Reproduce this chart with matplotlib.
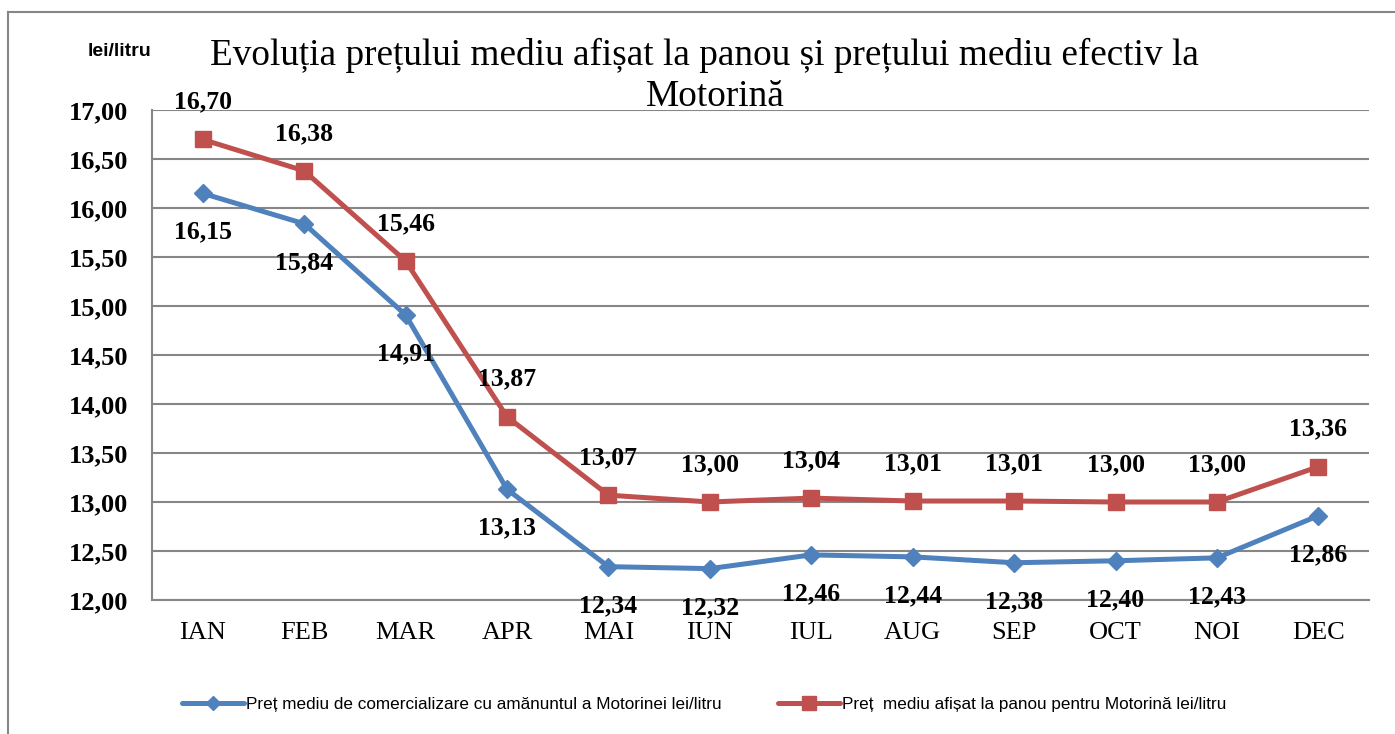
import matplotlib
matplotlib.use("Agg")
from matplotlib import pyplot as plt
from matplotlib.lines import Line2D

# months and monthly prices (lei/litru)
luni = ["IAN", "FEB", "MAR", "APR", "MAI", "IUN", "IUL", "AUG", "SEP", "OCT", "NOI", "DEC"]
pret_efectiv = [16.15, 15.84, 14.91, 13.13, 12.34, 12.32, 12.46, 12.44, 12.38, 12.40, 12.43, 12.86]
pret_panou = [16.70, 16.38, 15.46, 13.87, 13.07, 13.00, 13.04, 13.01, 13.01, 13.00, 13.00, 13.36]

eticheta_efectiv = "Preț mediu de comercializare cu amănuntul a Motorinei lei/litru"
eticheta_panou = "Preț  mediu afișat la panou pentru Motorină lei/litru"
titlu_1 = "Evoluția prețului mediu afișat la panou și prețului mediu efectiv la"
titlu_2 = "Motorină"

blue = "#4F81BD"
red = "#C0504D"
grid_col = "#868686"
serif = "Liberation Serif"


def fmt(v):
    return f"{v:.2f}".replace(".", ",")


fig = plt.figure(figsize=(13.95, 7.34), dpi=100)
ax = fig.add_axes([0.109, 0.1826, 0.8724, 0.6674])

x = list(range(len(luni)))
ax.plot(x, pret_efectiv, color=blue, lw=3.6, marker="D", ms=9.5,
        label=eticheta_efectiv, solid_capstyle="round", zorder=3)
ax.plot(x, pret_panou, color=red, lw=3.6, marker="s", ms=12,
        label=eticheta_panou, solid_capstyle="round", zorder=3)

# data labels: blue below, red above
for i, v in enumerate(pret_efectiv):
    ax.annotate(fmt(v), (i, v), xytext=(0, -28), textcoords="offset points",
                ha="center", va="center", fontsize=18.5, fontweight="bold",
                family=serif)
for i, v in enumerate(pret_panou):
    ax.annotate(fmt(v), (i, v), xytext=(0, 27), textcoords="offset points",
                ha="center", va="center", fontsize=18.5, fontweight="bold",
                family=serif)

ax.set_xlim(-0.5, len(luni) - 0.5)
ax.set_ylim(12, 17)
ax.set_yticks([12 + 0.5 * k for k in range(11)])
ax.set_yticklabels([fmt(12 + 0.5 * k) for k in range(11)],
                   fontsize=19, fontweight="bold", family=serif)
ax.set_xticks(x)
ax.set_xticklabels(luni, fontsize=19, family=serif)
ax.tick_params(axis="y", length=0, pad=17)
ax.tick_params(axis="x", length=0, pad=16)
ax.yaxis.grid(True, color=grid_col, lw=1.5)
ax.set_axisbelow(True)
for s in ["top", "right"]:
    ax.spines[s].set_visible(False)
for s in ["left", "bottom"]:
    ax.spines[s].set_color(grid_col)
    ax.spines[s].set_linewidth(1.5)

fig.text(0.505, 1 - 55 / 734, titlu_1, ha="center", va="center", fontsize=26.8,
         family=serif)
fig.text(0.513, 1 - 97 / 734, titlu_2, ha="center", va="center", fontsize=26.8,
         family=serif)
fig.text(0.063, 1 - 52 / 734, "lei/litru", ha="left", va="center", fontsize=14,
         fontweight="bold", family="Liberation Sans")

fig.legend(loc="center", bbox_to_anchor=(0.505, 0.04), ncol=2, frameon=False,
           prop={"family": "Liberation Sans", "size": 12.3},
           handlelength=3.6, columnspacing=3.3, handletextpad=0.15,
           markerscale=0.8)

# outer chart frame
fig.add_artist(Line2D([8 / 1395, 8 / 1395], [0, 1 - 12 / 734], color=grid_col, lw=1.5))
fig.add_artist(Line2D([8 / 1395, 1], [1 - 12 / 734, 1 - 12 / 734], color=grid_col, lw=1.5))

fig.savefig("out.png", dpi=100)
